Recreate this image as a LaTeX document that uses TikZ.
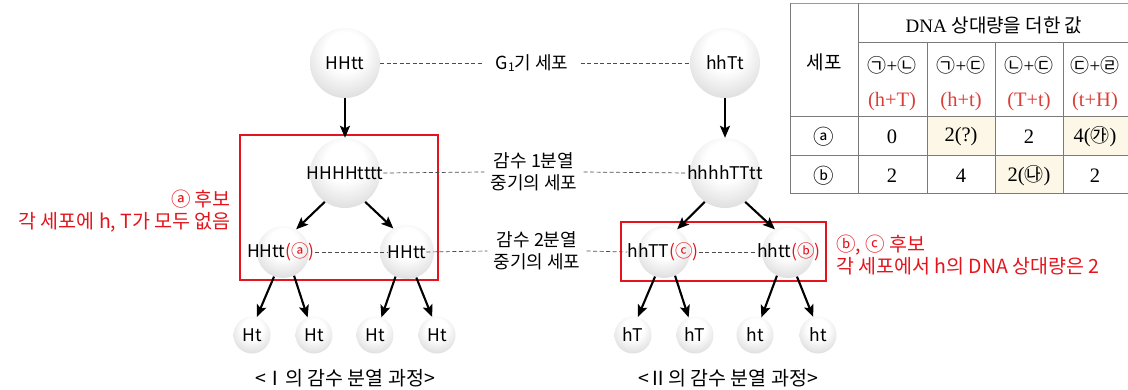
\documentclass[tikz,border=0pt]{standalone}
\usepackage{fontspec}
\setmainfont{Noto Sans CJK KR}
\newfontfamily\tblf{Liberation Serif}
\newfontfamily\krf{Noto Sans CJK KR}
\usetikzlibrary{arrows.meta}
\definecolor{annred}{HTML}{E3141C}
\definecolor{tabred}{HTML}{D9403A}
\definecolor{cream}{HTML}{FCF7E6}
\definecolor{tline}{HTML}{7A7A7A}
\pgfdeclareradialshading{sph}{\pgfpoint{0bp}{10bp}}{color(0bp)=(white); color(14bp)=(white); color(52bp)=(black!28); color(75bp)=(black!30)}
\newcommand\circk[1]{{\krf\fontsize{19}{22}\selectfont #1}}
\tikzset{
  cell/.style={circle, shading=sph, minimum size=#1, inner sep=0pt},
  lbl/.style={font=\fontsize{17.5}{20}\selectfont, inner sep=0pt},
  captxt/.style={font=\fontsize{19.5}{22}\selectfont, inner sep=0pt},
  mid/.style={font=\fontsize{18}{22}\selectfont, align=center, inner sep=6pt},
  arr/.style={line width=2.1pt, -{Stealth[length=12pt,width=10pt,inset=2.5pt]}},
  dsh/.style={draw=black!70, line width=0.7pt, dash pattern=on 4pt off 2.5pt},
  redbox/.style={draw=annred, line width=2.2pt},
  ann/.style={text=annred, font=\fontsize{19.5}{22}\selectfont, inner sep=0pt},
  tt/.style={font=\fontsize{20.5}{22}\selectfont, inner sep=0pt},
  tk/.style={font=\fontsize{19}{22}\selectfont, inner sep=0pt},
  tline/.style={draw=tline, line width=0.9pt}
}
\begin{document}
\begin{tikzpicture}[x=1pt,y=-1pt]
\useasboundingbox (0,0) rectangle (1128,389);
% ---------- table ----------
\fill[cream] (927,116) rectangle (995,155);
\fill[cream] (1063,116) rectangle (1128,155);
\fill[cream] (995,155) rectangle (1063,193);
\draw[draw=black!40, line width=0.9pt] (790,3) -- (1128,3);
\draw[tline] (858,42) -- (1128,42);
\draw[tline] (790,116) -- (1128,116);
\draw[tline] (790,155) -- (1128,155);
\draw[tline] (790,193) -- (1128,193);
\draw[tline] (790,3) -- (790,193);
\draw[tline] (858,3) -- (858,193);
\draw[tline] (927,42) -- (927,193);
\draw[tline] (995,42) -- (995,193);
\draw[tline] (1063,42) -- (1063,193);
\node[tk] (th) at (994,25) {\tblf DNA \krf 상대량을 더한 값};
\node[tk] (tc) at (824,62) {\krf 세포};
\node[tk] (h1) at (892,65) {\circk{㉠}\tblf +\circk{㉡}};
\node[tk] (h2) at (961,65) {\circk{㉠}\tblf +\circk{㉢}};
\node[tk] (h3) at (1029,65) {\circk{㉡}\tblf +\circk{㉢}};
\node[tk] (h4) at (1095,65) {\circk{㉢}\tblf +\circk{㉣}};
\node[tt, text=tabred] (r1) at (892,102) {\tblf (h+T)};
\node[tt, text=tabred] (r2) at (961,102) {\tblf (h+t)};
\node[tt, text=tabred] (r3) at (1029,102) {\tblf (T+t)};
\node[tt, text=tabred] (r4) at (1095,102) {\tblf (t+H)};
\node[tt] (ra) at (824,137) {\krf ⓐ};
\node[tt] (a1v) at (892,137) {\tblf 0};
\node[tt] (a2v) at (961,137) {\tblf 2(?)};
\node[tt] (a3v) at (1029,137) {\tblf 2};
\node[tt] (a4v) at (1095,137) {\tblf 4(\circk{㉮})};
\node[tt] (rb) at (824,176) {\krf ⓑ};
\node[tt] (b1v) at (892,176) {\tblf 2};
\node[tt] (b2v) at (961,176) {\tblf 4};
\node[tt] (b3v) at (1029,176) {\tblf 2(\circk{㉯})};
\node[tt] (b4v) at (1095,176) {\tblf 2};
% ---------- red boxes ----------
\draw[redbox] (240,135) rectangle (438,280);
\draw[redbox] (621,222) rectangle (826,281);
% ---------- cells ----------
\node[cell=70pt] (c1) at (345,63) {};
\node[cell=70pt] (c2) at (725,63) {};
\node[cell=70pt] (m1) at (345,173) {};
\node[cell=70pt] (m2) at (725,173) {};
\node[cell=52pt] (a1) at (283,252) {};
\node[cell=54pt] (a2) at (407,252) {};
\node[cell=52pt] (b1) at (664,252) {};
\node[cell=52pt] (b2) at (788,252) {};
\foreach \n/\x in {p1/252,p2/314,p3/375,p4/437,q1/633,q2/695,q3/755,q4/818}
  \node[cell=37pt] (\n) at (\x,335) {};
% texts in cells
\node[lbl] (tc1) at (345,63) {HHtt};
\node[lbl] (tc2) at (725,63) {hhTt};
\node[lbl] (tm1) at (345,173) {HHHHtttt};
\node[lbl] (tm2) at (725,173) {hhhhTTtt};
\node[lbl] (ta1) at (281,252) {HHtt\textcolor{annred}{(ⓐ)}};
\node[lbl] (ta2) at (407,252) {HHtt};
\node[lbl] (tb1) at (663,252) {hhTT\textcolor{annred}{(ⓒ)}};
\node[lbl] (tb2) at (789,252) {hhtt\textcolor{annred}{(ⓑ)}};
\foreach \n/\t in {p1/Ht,p2/Ht,p3/Ht,p4/Ht,q1/hT,q2/hT,q3/ht,q4/ht}
  \node[lbl] at (\n) {\t};
% ---------- middle labels ----------
\node[mid, inner sep=12pt] (g1) at (532,63) {G\raisebox{-0.1em}{\fontsize{12}{14}\selectfont 1}기 세포};
\node[mid] (k1) at (534,172) {감수 1분열\\중기의 세포};
\node[mid] (k2) at (537,251) {감수 2분열\\중기의 세포};
\draw[dsh] (c1.east) -- (g1.west);
\draw[dsh] (g1.east) -- (c2.west);
\draw[dsh] (tm1.east) -- (k1.west);
\draw[dsh] (k1.east) -- (tm2.west);
\draw[dsh] (ta2.east) -- (k2.west);
\draw[dsh] (k2.east) -- (tb1.west);
\draw[dsh] (ta1.east) -- (ta2.west);
\draw[dsh] (tb1.east) -- (tb2.west);
% ---------- arrows ----------
\draw[arr] (c1.south) -- (m1.north);
\draw[arr] (c2.south) -- (m2.north);
\draw[arr] (m1.-125) -- (a1.60);
\draw[arr] (m1.-55) -- (a2.120);
\draw[arr] (m2.-125) -- (b1.60);
\draw[arr] (m2.-55) -- (b2.120);
\draw[arr] (a1.-110) -- (p1.75);
\draw[arr] (a1.-65) -- (p2.110);
\draw[arr] (a2.-115) -- (p3.70);
\draw[arr] (a2.-70) -- (p4.105);
\draw[arr] (b1.-110) -- (q1.75);
\draw[arr] (b1.-65) -- (q2.110);
\draw[arr] (b2.-115) -- (q3.70);
\draw[arr] (b2.-70) -- (q4.105);
% ---------- annotations ----------
\node[ann, anchor=east, align=right] (an1) at (231,211) {ⓐ 후보\\각 세포에 h, T가 모두 없음};
\node[ann, anchor=west, align=left] (an2) at (836,255) {ⓑ, ⓒ 후보\\각 세포에서 h의 DNA 상대량은 2};
% ---------- captions ----------
\node[captxt] (cap1) at (345,378) {<Ⅰ의 감수 분열 과정>};
\node[captxt] (cap2) at (728,378) {<Ⅱ의 감수 분열 과정>};
\end{tikzpicture}
\end{document}
